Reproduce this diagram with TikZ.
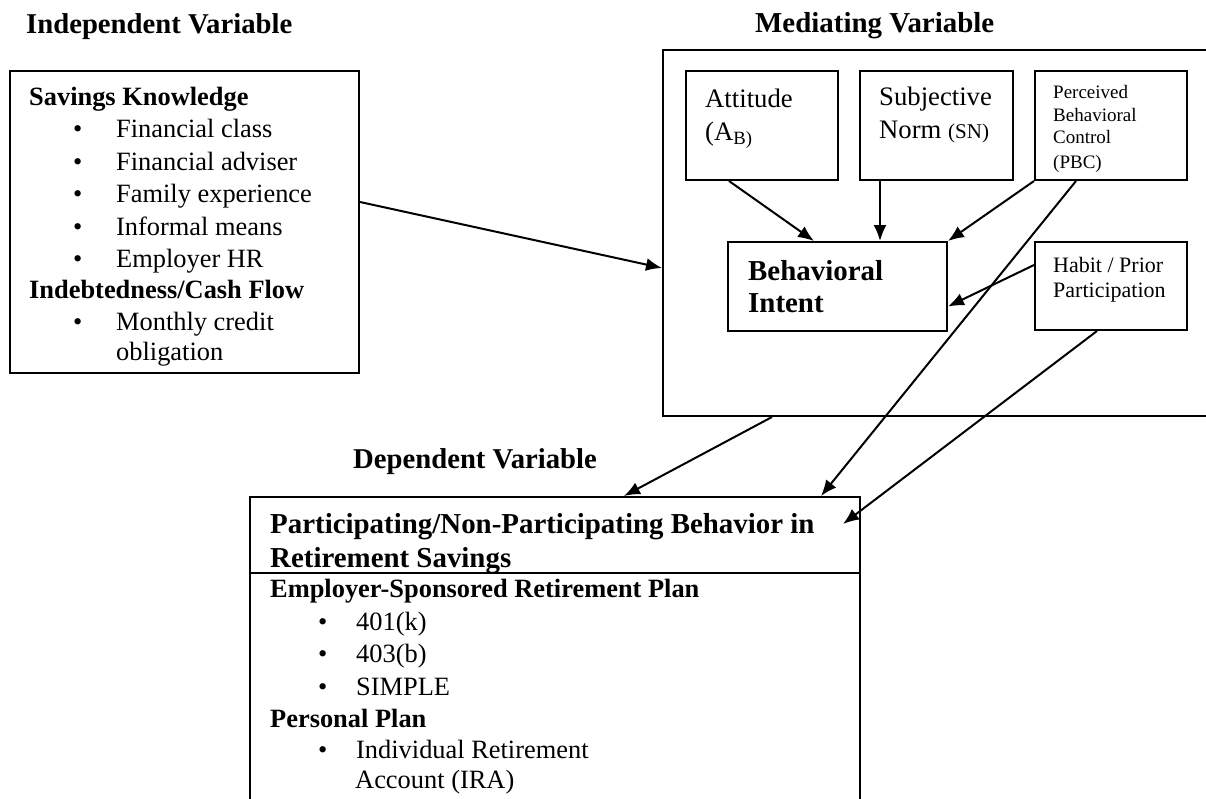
\documentclass[tikz,border=0pt]{standalone}
\usepackage{fontspec}
\setmainfont{Liberation Serif}
\usepackage{tikz}
\usetikzlibrary{positioning,fit,arrows.meta}

\begin{document}
\begin{tikzpicture}[
  x=1pt, y=-1pt,
  box/.style={draw, line width=2pt, inner sep=0pt},
  txt/.style={anchor=base west, inner sep=0pt, font=\fontsize{26.4}{32}\selectfont},
  bold/.style={txt, font=\fontsize{26.4}{32}\selectfont\bfseries},
  title/.style={txt, font=\fontsize{28.7}{34}\selectfont\bfseries},
  small/.style={txt, font=\fontsize{19}{23}\selectfont},
  arrow/.style={-{Latex[length=16pt,width=13pt]}, line width=2pt}
]
  \useasboundingbox (0,0) rectangle (1206,798);
  \clip (0,0) rectangle (1206,798);

  % titles
  \node[title] (tind) at (26,33) {Independent Variable};
  \node[title, font=\fontsize{28.9}{34}\selectfont\bfseries] (tmed) at (755,32) {Mediating Variable};
  \node[title] (tdep) at (353,468) {Dependent Variable};

  % boxes
  \node[box, fit={(10,71) (359,373)}] (indep) {};
  \node[box, fit={(663,50) (1230,416)}] (med) {};
  \node[box, fit={(686,71) (838,180)}] (att) {};
  \node[box, fit={(860,71) (1013,180)}] (sn) {};
  \node[box, fit={(1035,71) (1187,180)}] (pbc) {};
  \node[box, fit={(728,242) (947,331)}] (bi) {};
  \node[box, fit={(1035,242) (1187,330)}] (habit) {};
  \node[box, fit={(250,497) (860,573)}] (dephead) {};
  \node[box, fit={(250,573) (860,840)}] (deplist) {};

  % independent variable
  \node[bold] (sk) at (29,105) {Savings Knowledge};
  \node[txt] (sk1) at (73,137) {\makebox[43pt][l]{\textbullet}Financial class};
  \node[txt] (sk2) at (73,170) {\makebox[43pt][l]{\textbullet}Financial adviser};
  \node[txt] (sk3) at (73,202) {\makebox[43pt][l]{\textbullet}Family experience};
  \node[txt] (sk4) at (73,235) {\makebox[43pt][l]{\textbullet}Informal means};
  \node[txt] (sk5) at (73,267) {\makebox[43pt][l]{\textbullet}Employer HR};
  \node[bold] (cf) at (29,298) {Indebtedness/Cash Flow};
  \node[txt] (cf1) at (73,330) {\makebox[43pt][l]{\textbullet}Monthly credit};
  \node[txt] (cf1b) at (116,360) {obligation};

  % mediating variable
  \node[txt, font=\fontsize{26.7}{33}\selectfont] (atta) at (705,107) {Attitude};
  \node[txt, font=\fontsize{26.7}{33}\selectfont] (attb) at (705,140) {(A\textsubscript{B)}};
  \node[txt, font=\fontsize{26.7}{33}\selectfont] (sna) at (879,105) {Subjective};
  \node[txt, font=\fontsize{26.7}{33}\selectfont] (snb) at (879,138) {Norm {\fontsize{21}{25}\selectfont(SN)}};
  \node[small] (pbca) at (1053,98) {Perceived};
  \node[small] (pbcb) at (1053,121) {Behavioral};
  \node[small] (pbcc) at (1053,143) {Control};
  \node[small] (pbcd) at (1053,168) {(PBC)};
  \node[txt, font=\fontsize{22}{25}\selectfont] (haba) at (1053,272) {Habit / Prior};
  \node[txt, font=\fontsize{22}{25}\selectfont] (habb) at (1053,297) {Participation};
  \node[bold, font=\fontsize{28.9}{34}\selectfont\bfseries] (bia) at (748,280) {Behavioral};
  \node[bold, font=\fontsize{28.9}{34}\selectfont\bfseries] (bib) at (748,312) {Intent};

  % dependent variable
  \node[bold, font=\fontsize{28.9}{34}\selectfont\bfseries] (pa) at (270,533) {Participating/Non-Participating Behavior in};
  \node[bold, font=\fontsize{28.9}{34}\selectfont\bfseries] (pb) at (270,567) {Retirement Savings};
  \node[bold] (esp) at (270,597) {Employer-Sponsored Retirement Plan};
  \node[txt] (esp1) at (318,630) {\makebox[38pt][l]{\textbullet}401(k)};
  \node[txt] (esp2) at (318,662) {\makebox[38pt][l]{\textbullet}403(b)};
  \node[txt] (esp3) at (318,695) {\makebox[38pt][l]{\textbullet}SIMPLE};
  \node[bold] (pp) at (270,727) {Personal Plan};
  \node[txt] (pp1) at (318,758) {\makebox[38pt][l]{\textbullet}Individual Retirement};
  \node[txt] (pp1b) at (355,788) {Account (IRA)};

  % arrows
  \draw[arrow] ([yshift=20pt]indep.east) -- ([yshift=-35pt]med.west);
  \draw[arrow] ([xshift=44pt]att.south west) -- ([xshift=87pt]bi.north west);
  \draw[arrow] ([xshift=21pt]sn.south west) -- ([xshift=21pt]sn.south west |- bi.north);
  \draw[arrow] (pbc.south west) -- (bi.north east);
  \draw[arrow] ([yshift=21pt]habit.west) -- ([yshift=-20pt]bi.east);
  \draw[arrow] ([xshift=110pt]med.south west) -- ([xshift=375pt]dephead.north west);
  \draw[arrow] ([xshift=42pt]pbc.south west) -- ([xshift=572pt]dephead.north west);
  \draw[arrow] ([xshift=63pt]habit.south west) -- ([xshift=-18pt,yshift=-28pt]dephead.north east);
\end{tikzpicture}
\end{document}
